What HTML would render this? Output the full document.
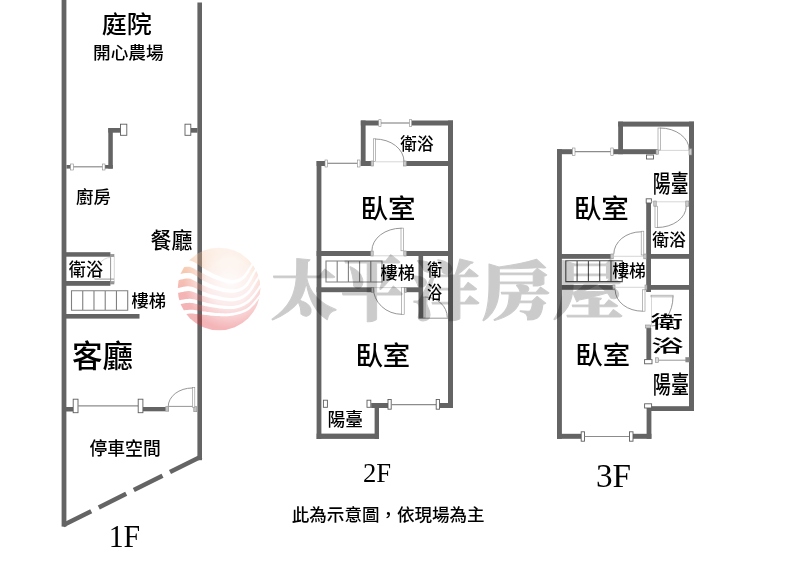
<!DOCTYPE html>
<html lang="zh-Hant"><head><meta charset="utf-8"><title>floor plan</title>
<style>
html,body{margin:0;padding:0;background:#fff}
svg{display:block;filter:blur(.4px)}
.w rect{fill:#646464}
.m{stroke:#5e5e5e;stroke-width:.9}
.n{stroke:#8a8a8a;stroke-width:.6}
.t{stroke:#8c8c8c;stroke-width:1.2;fill:none}
.d{stroke:#c4c4c4;stroke-width:.7;fill:none}
.a{stroke:#8a8a8a;stroke-width:.9;fill:none}
.l{stroke:#8a8a8a;stroke-width:.6;fill:#fff}
.s{stroke:#808080;stroke-width:1.1;fill:none}
.s2{stroke:#4d4d4d;stroke-width:1.1;fill:none}
.f{font-family:"Liberation Serif",serif;fill:#000}
.c{font-family:"Liberation Sans","Noto Sans CJK TC",sans-serif;fill:#000;font-weight:500}
.k{font-family:"Liberation Serif","Noto Serif CJK SC",serif;fill:#000;font-weight:900}
</style></head><body>
<svg width="800" height="577" viewBox="0 0 800 577">
<defs>
<linearGradient id="lg" x1="0" y1="0" x2="0" y2="1"><stop offset="0" stop-color="#f8c8a4"/><stop offset=".13" stop-color="#f3a066"/><stop offset=".27" stop-color="#e8641f"/><stop offset=".56" stop-color="#df2424"/><stop offset="1" stop-color="#e22b34"/></linearGradient>
<radialGradient id="lh" cx="0.63" cy="0.42" r="0.56"><stop offset="0" stop-color="#fff" stop-opacity=".95"/><stop offset=".5" stop-color="#fff" stop-opacity=".74"/><stop offset=".8" stop-color="#fff" stop-opacity=".3"/><stop offset="1" stop-color="#fff" stop-opacity="0"/></radialGradient>
<filter id="bl"><feGaussianBlur stdDeviation=".55"/></filter>
</defs>
<rect width="800" height="577" fill="#fff"/>
<g class="w"><rect x="61.6" y="-6" width="4.8" height="532.6"/><rect x="197.4" y="2.5" width="4.6" height="457.7"/><rect x="108.3" y="128" width="4.5" height="40.6"/><rect x="108.3" y="128" width="12.2" height="4.7"/><rect x="103.9" y="165" width="8.9" height="3.6"/><rect x="66.5" y="165" width="4.1" height="3.6"/><rect x="190.8" y="128" width="6.7" height="4.7"/><rect x="66" y="252.2" width="44.4" height="4.5"/><rect x="66" y="281" width="44.4" height="4.8"/><rect x="66" y="314" width="73.5" height="4.6"/><rect x="66" y="407" width="7.2" height="4.5"/><rect x="142.9" y="407" width="22.8" height="4.3"/><rect x="316.6" y="161" width="4.8" height="278"/><rect x="448" y="120.5" width="5" height="287.5"/><rect x="360.8" y="120.5" width="18" height="5"/><rect x="411.2" y="120.5" width="41.8" height="5"/><rect x="360.8" y="120.5" width="4.8" height="45.5"/><rect x="316.6" y="161" width="8.6" height="5"/><rect x="360.8" y="161" width="10.7" height="5"/><rect x="406.2" y="161" width="46.8" height="5"/><rect x="316.6" y="251" width="54.4" height="5"/><rect x="406.2" y="251" width="46.8" height="5"/><rect x="316.6" y="287.3" width="55.9" height="4.9"/><rect x="404.5" y="287.3" width="14.5" height="4.9"/><rect x="418.5" y="256" width="4.6" height="62.6"/><rect x="316.6" y="433.6" width="62.4" height="5.3"/><rect x="374.6" y="403" width="4.4" height="35.9"/><rect x="371.2" y="403" width="17.6" height="5"/><rect x="439.5" y="403" width="13.5" height="5"/><rect x="557" y="149.2" width="4.9" height="289.6"/><rect x="689" y="121.6" width="5" height="289.4"/><rect x="618.2" y="121.6" width="75.8" height="5"/><rect x="618.2" y="121.6" width="4.8" height="32.6"/><rect x="557" y="149.2" width="15.5" height="5"/><rect x="613.2" y="149.2" width="43.8" height="5"/><rect x="646.2" y="202.5" width="4.8" height="89.5"/><rect x="557" y="254" width="53.8" height="4.8"/><rect x="651" y="254" width="43" height="4.8"/><rect x="646.2" y="285" width="47.8" height="4.8"/><rect x="557" y="285" width="58" height="4.8"/><rect x="646.4" y="328" width="4.8" height="34.5"/><rect x="646.6" y="407.5" width="4.8" height="31.3"/><rect x="651" y="406.2" width="43" height="4.8"/><rect x="557" y="433.8" width="24.2" height="5"/><rect x="633" y="433.8" width="18.4" height="5"/></g>
<path d="M201.3 456.5L170 472M162.5 475.7L133.8 490M126.2 493.8L98.8 507.5M91.2 511.2L63 525.3" stroke="#646464" stroke-width="4.6" fill="none"/>
<g><rect class="m" x="120.5" y="124.2" width="6.3" height="11.1" fill="#fff"/><rect class="m" x="185" y="124.2" width="5.8" height="11.1" fill="#fff"/><rect class="n" x="70.6" y="164" width="2.9" height="6" fill="#fff"/><rect class="n" x="102.3" y="164" width="2.7" height="6" fill="#fff"/><path class="t" d="M73.5 166.8L102.3 166.8"/><rect class="n" x="110.4" y="254.4" width="3.6" height="2.3" fill="#999"/><rect class="n" x="110.4" y="281.5" width="3.6" height="2.5" fill="#999"/><path class="s" d="M71.5 290.7H127.7V310.3H71.5ZM82.74 290.7V310.3M93.98 290.7V310.3M105.22 290.7V310.3M116.46 290.7V310.3"/><rect class="m" x="73.2" y="399.2" width="4.8" height="13.5" fill="#fff"/><path class="t" d="M78 405.8L138.2 405.8"/><rect class="m" x="138.2" y="399.2" width="4.7" height="13.5" fill="#fff"/><rect class="n" x="165.7" y="406.7" width="3" height="4.5" fill="#c4c4c4"/><rect class="n" x="193.8" y="406.7" width="3" height="5" fill="#c4c4c4"/><rect class="l" x="192.3" y="387.6" width="2.5" height="19.6"/><path class="a" d="M168.2 406.7A24.1 18.7 0 0 1 192.3 388"/><path class="a" d="M168.7 406.4L192.3 406.4"/><path class="a" d="M110.6 256.7L110.6 281"/><path class="d" d="M114.3 256L114.3 283"/><path class="d" d="M110.5 257.5A16 21.5 0 0 0 94.6 279"/><path class="a" d="M94.6 279.1L114 279.1"/><path class="t" d="M381 123L409.5 123"/><rect class="n" x="378.8" y="119.7" width="2.2" height="6.6" fill="#fff"/><rect class="n" x="409.5" y="119.7" width="2.2" height="6.6" fill="#fff"/><rect class="n" x="325" y="160" width="2.5" height="7" fill="#fff"/><path class="t" d="M327.5 163.3L357.5 163.3"/><rect class="n" x="357.5" y="160" width="2.5" height="7" fill="#fff"/><rect class="n" x="371" y="161" width="2.3" height="5" fill="#ccc"/><rect class="n" x="403.5" y="161" width="2.7" height="5" fill="#ccc"/><rect class="l" x="373.3" y="138.8" width="2.2" height="22.7"/><path class="a" d="M375 139A29 22.5 0 0 1 404 161.5"/><path class="d" d="M375.5 161.8L403.5 161.8"/><rect class="n" x="370.8" y="251" width="2.4" height="5" fill="#ccc"/><rect class="n" x="403.8" y="251" width="2.4" height="5" fill="#ccc"/><rect class="l" x="401" y="228.1" width="2.5" height="22.7"/><path class="a" d="M401.4 228.2A29.5 22.6 0 0 0 371.9 250.8"/><path class="d" d="M373.5 255.8L403 255.8"/><rect class="n" x="371.6" y="287.3" width="2.4" height="4.9" fill="#ccc"/><rect class="n" x="404.3" y="287.3" width="2.3" height="4.9" fill="#ccc"/><rect class="l" x="401.5" y="287.6" width="2.7" height="26.9"/><path class="a" d="M401.8 314.3A28.5 26.7 0 0 1 373.3 287.6"/><path class="d" d="M374 287.6L401.5 287.6"/><rect class="l" x="423.5" y="297" width="1.5" height="21"/><path class="a" d="M425 297A22.3 20.6 0 0 1 447.3 317.6"/><path class="a" d="M423 318.2L448 318.2"/><path class="s" d="M326 261H382V282H326ZM337.2 261V282M348.4 261V282M359.6 261V282M370.8 261V282"/><rect class="m" x="388" y="399.5" width="3.2" height="9.7" fill="#fff"/><path class="t" d="M391.2 404.7L436.2 404.7"/><rect class="m" x="436.2" y="399.5" width="3.3" height="9.7" fill="#fff"/><rect class="m" x="323.4" y="400.2" width="4" height="7.1" fill="#fff"/><rect class="m" x="367" y="400.2" width="3.8" height="7.1" fill="#fff"/><rect class="n" x="572.5" y="148" width="2.5" height="7.4" fill="#fff"/><path class="t" d="M575 151.6L610.8 151.6"/><rect class="n" x="610.8" y="148" width="2.4" height="7.4" fill="#fff"/><rect class="n" x="656" y="149.5" width="2.5" height="4.7" fill="#ccc"/><path class="d" d="M658.5 150.4L689.2 150.4"/><rect class="n" x="689" y="148.8" width="2.8" height="6.2" fill="#ccc"/><rect class="m" x="646.5" y="155" width="7" height="4" fill="#fff"/><rect class="l" x="658" y="128" width="2.5" height="22"/><path class="a" d="M660 128A29.2 22 0 0 1 689.2 150"/><rect class="m" x="646.2" y="198.8" width="5.2" height="4.2" fill="#fff"/><path class="d" d="M651 201.8L689.2 201.8"/><rect class="n" x="653.8" y="201" width="2.4" height="5.2" fill="#ccc"/><rect class="n" x="685.8" y="201" width="3" height="5.2" fill="#ccc"/><rect class="l" x="655" y="206.2" width="2.5" height="21.3"/><path class="a" d="M657 227.5A29.2 21.3 0 0 0 686.2 206.2"/><rect class="n" x="610.8" y="254" width="2.4" height="4.8" fill="#ccc"/><rect class="n" x="643.8" y="254" width="2.4" height="4.8" fill="#ccc"/><rect class="n" x="612.8" y="285" width="2.2" height="4.8" fill="#ccc"/><rect class="n" x="645" y="285" width="2" height="4.8" fill="#ccc"/><rect class="l" x="641.2" y="231.2" width="2.6" height="23.8"/><path class="a" d="M641.2 231.8A27.4 22.4 0 0 0 613.8 254.2"/><path class="d" d="M613 256.3L643 256.3"/><rect class="l" x="642.4" y="289.8" width="2.6" height="21.4"/><path class="a" d="M642.5 311.2A27.3 21.2 0 0 1 615.2 290"/><path class="d" d="M615 287.3L645 287.3"/><path class="s2" d="M565.8 260.8H622.3V281.6H565.8ZM577.1 260.8V281.6M588.4 260.8V281.6M599.7 260.8V281.6M611 260.8V281.6"/><rect class="n" x="645.6" y="325" width="5" height="3" fill="#ccc"/><rect class="l" x="651" y="295.2" width="22.1" height="1.7"/><path class="a" d="M673 296.5A21.5 29.5 0 0 1 651.5 326"/><path class="d" d="M651.5 297L651.5 326"/><rect class="m" x="644.6" y="359.6" width="7.4" height="4.2" fill="#fff"/><path class="a" d="M658.5 360.2L686 360.2"/><rect class="n" x="655.5" y="357.8" width="3" height="4.8" fill="#ddd"/><rect class="n" x="685.8" y="357.5" width="3.4" height="4.5" fill="#888"/><rect class="m" x="644.6" y="403.8" width="7" height="4.2" fill="#fff"/><rect class="m" x="581.2" y="431.8" width="3.3" height="9.4" fill="#fff"/><path class="t" d="M584.5 436.5L629.5 436.5"/><rect class="m" x="629.5" y="431.8" width="3.5" height="9.4" fill="#fff"/></g>
<g>
<text class="c" x="101.67" y="32.97" font-size="23.4" textLength="50" lengthAdjust="spacingAndGlyphs">庭院</text>
<text class="c" x="93.02" y="59.47" font-size="17.2" textLength="70.6" lengthAdjust="spacingAndGlyphs">開心農場</text>
<text class="c" x="76.01" y="202.89" font-size="17.3" textLength="34.8" lengthAdjust="spacingAndGlyphs">廚房</text>
<text class="c" x="150.58" y="248.38" font-size="21.2" textLength="41.9" lengthAdjust="spacingAndGlyphs">餐廳</text>
<text class="c" x="68.86" y="275.79" font-size="17.9" textLength="34.1" lengthAdjust="spacingAndGlyphs">衛浴</text>
<text class="c" x="131.62" y="307.19" font-size="17.6" textLength="34.5" lengthAdjust="spacingAndGlyphs">樓梯</text>
<text class="c" x="72.02" y="367.4" font-size="30.3" textLength="61" lengthAdjust="spacingAndGlyphs">客廳</text>
<text class="c" x="89.52" y="454.76" font-size="18" textLength="71.2" lengthAdjust="spacingAndGlyphs">停車空間</text>
<text class="c" x="400.37" y="149.79" font-size="16.7" textLength="33.2" lengthAdjust="spacingAndGlyphs">衛浴</text>
<text class="c" x="360.47" y="218.15" font-size="25.9" textLength="55" lengthAdjust="spacingAndGlyphs">臥室</text>
<text class="c" x="380.62" y="279.49" font-size="17.6" textLength="34.2" lengthAdjust="spacingAndGlyphs">樓梯</text>
<text class="c" x="427.29" y="276.14" font-size="17.3" textLength="14.8" lengthAdjust="spacingAndGlyphs">衛</text>
<text class="c" x="426.92" y="298.79" font-size="17.7" textLength="15" lengthAdjust="spacingAndGlyphs">浴</text>
<text class="c" x="355.48" y="365.29" font-size="26.6" textLength="54.8" lengthAdjust="spacingAndGlyphs">臥室</text>
<text class="c" x="327.63" y="426.49" font-size="17.7" textLength="35.5" lengthAdjust="spacingAndGlyphs">陽臺</text>
<text class="c" x="291.8" y="521.41" font-size="17.5" textLength="192.8" lengthAdjust="spacingAndGlyphs">此為示意圖，依現場為主</text>
<text class="c" x="652.83" y="191.99" font-size="23.7" textLength="35.7" lengthAdjust="spacingAndGlyphs">陽臺</text>
<text class="c" x="573.66" y="218.06" font-size="25.8" textLength="55.2" lengthAdjust="spacingAndGlyphs">臥室</text>
<text class="c" x="652.26" y="246.26" font-size="16.9" textLength="33.6" lengthAdjust="spacingAndGlyphs">衛浴</text>
<text class="c" x="612.43" y="276.89" font-size="16.7" textLength="33.4" lengthAdjust="spacingAndGlyphs">樓梯</text>
<text class="c" x="650.8" y="328.08" font-size="17" textLength="32.3" lengthAdjust="spacingAndGlyphs">衛</text>
<text class="c" x="651.24" y="351.52" font-size="17.4" textLength="32.3" lengthAdjust="spacingAndGlyphs">浴</text>
<text class="c" x="575.28" y="363.59" font-size="25.5" textLength="54.8" lengthAdjust="spacingAndGlyphs">臥室</text>
<text class="c" x="652.81" y="393.24" font-size="24.2" textLength="36.2" lengthAdjust="spacingAndGlyphs">陽臺</text>
<text class="f" x="108.68" y="546.6" font-size="31.2" textLength="31.5" lengthAdjust="spacingAndGlyphs">1F</text>
<text class="f" x="363.03" y="482" font-size="26.7" textLength="28.1" lengthAdjust="spacingAndGlyphs">2F</text>
<text class="f" x="595.91" y="487.16" font-size="34.1" textLength="35.1" lengthAdjust="spacingAndGlyphs">3F</text>
</g>
<g opacity=".34"><g transform="translate(219 289)">
<mask id="lm" maskUnits="userSpaceOnUse" x="-45" y="-45" width="90" height="90"><rect x="-45" y="-45" width="90" height="90" fill="#fff"/>
<g fill="#000" filter="url(#bl)"><path d="M-42.3 -20.0L-41.2 -20.2L-39.7 -20.6L-38.0 -21.1L-36.3 -21.5L-34.4 -21.9L-32.7 -22.2L-31.1 -22.3L-29.9 -22.2L-28.7 -22.0L-27.5 -21.6L-26.1 -20.9L-24.7 -20.2L-23.2 -19.3L-21.6 -18.3L-19.9 -17.4L-18.2 -16.5L-16.5 -15.7L-14.8 -14.9L-13.2 -14.0L-11.4 -13.2L-9.7 -12.4L-7.9 -11.6L-6.1 -10.8L-4.2 -10.1L-2.3 -9.3L-0.2 -8.6L1.8 -7.9L4.0 -7.2L6.1 -6.6L8.2 -6.0L10.2 -5.7L12.1 -5.5L13.9 -5.5L15.5 -5.7L17.1 -6.0L18.6 -6.4L20.1 -6.9L21.4 -7.6L22.7 -8.4L24.0 -9.3L25.2 -10.4L26.4 -11.6L27.4 -13.0L28.4 -14.4L29.4 -15.9L30.2 -17.3L31.0 -18.7L31.8 -20.0L32.6 -21.3L33.4 -22.7L34.1 -24.1L34.7 -25.5L35.3 -26.8L35.9 -28.0L36.3 -28.9L36.7 -29.7L35.3 -30.3L34.9 -29.6L34.4 -28.7L33.8 -27.6L33.1 -26.3L32.4 -25.0L31.6 -23.7L30.8 -22.4L30.0 -21.2L29.1 -19.9L28.2 -18.6L27.3 -17.3L26.3 -15.9L25.3 -14.6L24.3 -13.5L23.3 -12.5L22.2 -11.7L21.1 -11.0L20.0 -10.4L18.8 -9.9L17.6 -9.6L16.4 -9.3L15.1 -9.1L13.8 -9.0L12.3 -9.1L10.7 -9.3L9.0 -9.7L7.1 -10.2L5.2 -10.9L3.2 -11.6L1.2 -12.4L-0.8 -13.2L-2.6 -13.9L-4.4 -14.7L-6.0 -15.5L-7.7 -16.4L-9.4 -17.3L-11.0 -18.2L-12.6 -19.1L-14.2 -20.0L-15.8 -20.9L-17.3 -21.8L-18.7 -22.8L-20.2 -23.9L-21.7 -25.0L-23.3 -26.0L-25.0 -27.0L-26.9 -27.8L-28.9 -28.4L-31.1 -28.6L-33.4 -28.4L-35.6 -28.1L-37.7 -27.6L-39.6 -27.1L-41.3 -26.6L-42.7 -26.2L-43.7 -26.0Z"/><path d="M-42.4 -8.3L-41.3 -8.6L-39.8 -8.9L-38.2 -9.4L-36.4 -9.8L-34.5 -10.2L-32.7 -10.4L-31.1 -10.6L-29.8 -10.5L-28.7 -10.2L-27.4 -9.8L-26.0 -9.1L-24.5 -8.3L-23.0 -7.4L-21.4 -6.4L-19.7 -5.5L-18.0 -4.6L-16.3 -3.9L-14.7 -3.2L-13.0 -2.4L-11.3 -1.7L-9.6 -1.0L-7.8 -0.4L-5.9 0.2L-3.9 0.8L-1.9 1.3L0.3 1.9L2.6 2.4L4.9 2.9L7.2 3.3L9.6 3.6L11.8 3.7L13.9 3.7L15.8 3.5L17.6 3.2L19.4 2.7L21.1 2.1L22.7 1.4L24.2 0.5L25.7 -0.5L27.1 -1.7L28.5 -3.1L29.8 -4.7L30.9 -6.5L32.0 -8.3L33.1 -10.2L34.0 -12.1L34.9 -13.8L35.8 -15.4L36.6 -16.9L37.4 -18.4L38.1 -19.9L38.7 -21.4L39.4 -22.7L39.9 -23.9L40.3 -24.9L40.7 -25.7L39.3 -26.3L38.9 -25.6L38.4 -24.6L37.8 -23.5L37.1 -22.2L36.4 -20.8L35.6 -19.4L34.7 -17.9L33.8 -16.4L32.9 -14.9L31.9 -13.2L30.9 -11.4L29.9 -9.6L28.8 -7.9L27.6 -6.3L26.5 -4.9L25.3 -3.7L24.0 -2.8L22.7 -2.0L21.4 -1.3L20.0 -0.8L18.5 -0.3L17.0 -0.0L15.4 0.2L13.7 0.3L11.9 0.3L10.0 0.1L7.8 -0.3L5.6 -0.7L3.4 -1.2L1.2 -1.8L-0.9 -2.4L-2.9 -3.0L-4.7 -3.5L-6.4 -4.2L-8.1 -4.8L-9.7 -5.5L-11.3 -6.3L-12.9 -7.0L-14.5 -7.8L-16.0 -8.6L-17.5 -9.4L-18.9 -10.3L-20.4 -11.4L-21.9 -12.5L-23.4 -13.5L-25.1 -14.5L-26.9 -15.4L-29.0 -15.9L-31.1 -16.1L-33.3 -16.0L-35.5 -15.7L-37.6 -15.2L-39.5 -14.7L-41.2 -14.3L-42.6 -13.9L-43.6 -13.7Z"/><path d="M-42.5 4.3L-41.4 4.1L-40.0 3.7L-38.3 3.3L-36.5 2.9L-34.6 2.5L-32.7 2.2L-31.0 2.0L-29.6 2.0L-28.3 2.2L-27.0 2.6L-25.6 3.1L-24.1 3.6L-22.6 4.3L-21.0 5.0L-19.4 5.7L-17.7 6.3L-16.0 6.8L-14.4 7.3L-12.8 7.8L-11.1 8.3L-9.4 8.8L-7.6 9.2L-5.7 9.7L-3.8 10.1L-1.7 10.5L0.5 10.9L2.9 11.3L5.3 11.7L7.7 12.0L10.1 12.3L12.5 12.3L14.6 12.2L16.7 11.9L18.6 11.4L20.5 10.9L22.3 10.2L24.0 9.4L25.6 8.4L27.2 7.3L28.7 6.1L30.1 4.7L31.5 3.1L32.8 1.3L34.0 -0.5L35.1 -2.4L36.2 -4.2L37.2 -5.9L38.1 -7.5L39.1 -9.1L39.9 -10.8L40.7 -12.4L41.5 -14.0L42.2 -15.4L42.8 -16.7L43.3 -17.8L43.7 -18.7L42.3 -19.3L41.9 -18.5L41.3 -17.5L40.6 -16.2L39.9 -14.8L39.0 -13.3L38.2 -11.7L37.2 -10.2L36.3 -8.7L35.3 -7.1L34.2 -5.4L33.1 -3.6L31.9 -1.8L30.7 -0.1L29.5 1.5L28.2 2.9L26.9 4.1L25.6 5.1L24.1 6.0L22.6 6.8L21.1 7.5L19.5 8.0L17.9 8.5L16.1 8.8L14.4 9.0L12.4 9.1L10.4 9.0L8.1 8.7L5.8 8.4L3.5 7.9L1.2 7.5L-1.0 7.0L-3.0 6.5L-4.9 6.1L-6.7 5.7L-8.4 5.2L-10.0 4.7L-11.6 4.2L-13.2 3.6L-14.8 3.1L-16.3 2.5L-17.8 1.9L-19.3 1.2L-20.8 0.5L-22.3 -0.3L-23.9 -1.1L-25.5 -1.8L-27.3 -2.3L-29.2 -2.6L-31.2 -2.7L-33.3 -2.5L-35.4 -2.2L-37.5 -1.8L-39.4 -1.3L-41.1 -0.9L-42.5 -0.5L-43.5 -0.3Z"/><path d="M-42.6 16.0L-41.5 15.8L-40.1 15.4L-38.4 15.1L-36.6 14.7L-34.7 14.3L-32.8 14.1L-31.0 13.9L-29.4 13.8L-28.0 13.9L-26.6 14.1L-25.2 14.3L-23.7 14.7L-22.2 15.1L-20.7 15.5L-19.0 15.9L-17.4 16.3L-15.8 16.6L-14.2 16.9L-12.6 17.3L-10.9 17.6L-9.2 18.0L-7.4 18.3L-5.6 18.6L-3.6 18.8L-1.6 19.1L0.7 19.4L3.0 19.6L5.4 19.9L7.8 20.1L10.2 20.1L12.5 20.1L14.7 19.9L16.8 19.5L18.7 19.0L20.7 18.5L22.6 17.8L24.4 17.0L26.1 16.1L27.8 15.1L29.4 14.0L30.9 12.7L32.4 11.3L33.8 9.8L35.1 8.2L36.3 6.5L37.5 4.9L38.6 3.3L39.6 1.8L40.6 0.3L41.6 -1.4L42.5 -3.1L43.3 -4.7L44.0 -6.2L44.7 -7.6L45.2 -8.8L45.7 -9.6L44.3 -10.4L43.9 -9.5L43.2 -8.4L42.5 -7.0L41.7 -5.6L40.8 -4.0L39.8 -2.4L38.8 -0.9L37.8 0.6L36.7 2.0L35.6 3.6L34.4 5.1L33.2 6.6L31.9 8.1L30.6 9.5L29.2 10.8L27.8 11.8L26.4 12.8L24.8 13.7L23.2 14.5L21.5 15.2L19.8 15.7L18.0 16.2L16.2 16.6L14.3 16.9L12.3 17.1L10.2 17.1L8.0 16.9L5.7 16.7L3.4 16.5L1.1 16.2L-1.1 15.9L-3.2 15.6L-5.1 15.3L-6.8 15.0L-8.5 14.6L-10.2 14.3L-11.8 13.9L-13.4 13.5L-15.0 13.1L-16.6 12.7L-18.2 12.4L-19.7 11.9L-21.2 11.5L-22.7 11.0L-24.3 10.6L-25.9 10.2L-27.6 9.9L-29.4 9.8L-31.3 9.9L-33.3 10.1L-35.3 10.4L-37.4 10.8L-39.3 11.2L-41.0 11.5L-42.3 11.8L-43.4 12.0Z"/><path d="M-42.6 26.9L-41.6 26.7L-40.1 26.4L-38.4 26.1L-36.6 25.7L-34.7 25.3L-32.7 25.0L-30.9 24.8L-29.3 24.6L-27.8 24.6L-26.4 24.6L-24.9 24.7L-23.4 24.9L-21.9 25.1L-20.4 25.2L-18.8 25.4L-17.2 25.6L-15.6 25.7L-13.9 25.9L-12.3 26.1L-10.6 26.3L-8.9 26.5L-7.1 26.7L-5.3 26.8L-3.5 26.9L-1.6 27.0L0.3 27.1L2.2 27.2L4.2 27.3L6.3 27.3L8.3 27.2L10.4 27.1L12.4 26.8L14.4 26.4L16.5 26.0L18.6 25.5L20.7 24.9L22.8 24.3L24.7 23.5L26.6 22.7L28.4 21.7L30.0 20.7L31.5 19.4L32.9 18.1L34.2 16.8L35.5 15.4L36.6 14.0L37.7 12.6L38.8 11.2L39.9 9.8L40.9 8.3L41.9 6.7L42.9 5.1L43.7 3.7L44.5 2.3L45.1 1.2L45.6 0.4L44.4 -0.4L43.8 0.4L43.1 1.5L42.3 2.8L41.4 4.2L40.4 5.7L39.4 7.2L38.3 8.6L37.2 10.0L36.1 11.3L35.0 12.6L33.8 14.0L32.6 15.3L31.4 16.5L30.1 17.7L28.7 18.7L27.2 19.7L25.6 20.5L23.8 21.2L21.9 21.9L20.0 22.4L18.0 22.9L16.0 23.4L13.9 23.7L12.0 24.0L10.1 24.2L8.2 24.3L6.3 24.4L4.3 24.3L2.4 24.2L0.4 24.1L-1.5 24.0L-3.3 23.9L-5.1 23.7L-6.8 23.5L-8.5 23.3L-10.2 23.1L-11.9 22.9L-13.5 22.6L-15.2 22.4L-16.8 22.2L-18.4 22.0L-19.9 21.8L-21.4 21.5L-23.0 21.2L-24.5 21.0L-26.1 20.8L-27.8 20.8L-29.5 20.8L-31.3 20.9L-33.3 21.1L-35.4 21.5L-37.3 21.8L-39.2 22.2L-40.9 22.6L-42.3 22.9L-43.4 23.1Z"/></g></mask>
<g mask="url(#lm)"><circle r="41.3" fill="url(#lg)"/><circle r="41.3" fill="url(#lh)"/></g></g></g>
<g opacity=".2" stroke="#000" stroke-width="1.05" stroke-linejoin="round">
<text class="k" x="270.74" y="313.36" font-size="64" textLength="66.5" lengthAdjust="spacingAndGlyphs">太</text>
<text class="k" x="340.86" y="315.43" font-size="69.8" textLength="63" lengthAdjust="spacingAndGlyphs">平</text>
<text class="k" x="410.32" y="313.86" font-size="64" textLength="70.2" lengthAdjust="spacingAndGlyphs">洋</text>
<text class="k" x="481.06" y="314.11" font-size="64" textLength="71.9" lengthAdjust="spacingAndGlyphs">房</text>
<text class="k" x="552.58" y="313.14" font-size="63" textLength="71.1" lengthAdjust="spacingAndGlyphs">屋</text>
</g>
</svg>
</body></html>
